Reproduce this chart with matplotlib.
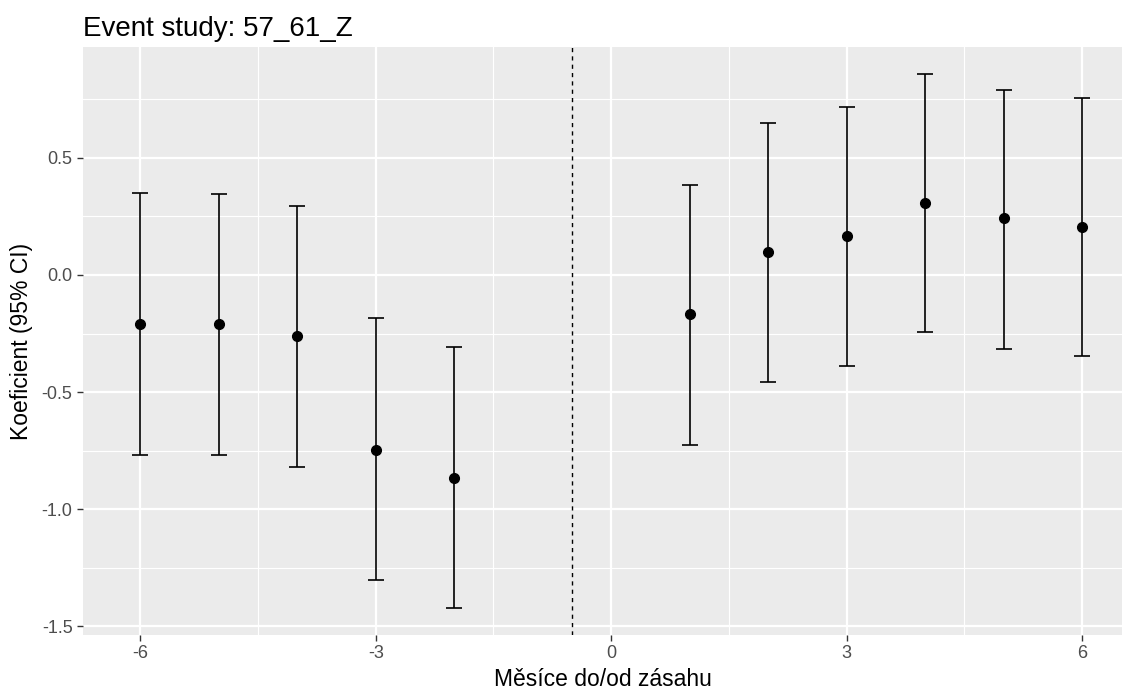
import numpy as np
import matplotlib.pyplot as plt

plt.rcParams['font.family'] = ['Liberation Sans', 'DejaVu Sans']
plt.rcParams['axes.unicode_minus'] = False

# data
months = [-6, -5, -4, -3, -2, 1, 2, 3, 4, 5, 6]
coef = [-0.209, -0.210, -0.260, -0.748, -0.868, -0.167, 0.098, 0.167, 0.308, 0.244, 0.205]
ci_low = [-0.769, -0.770, -0.820, -1.303, -1.423, -0.726, -0.457, -0.389, -0.244, -0.316, -0.346]
ci_high = [0.350, 0.346, 0.295, -0.184, -0.308, 0.385, 0.650, 0.718, 0.859, 0.790, 0.756]

x = np.array(months)
y = np.array(coef)
err = np.vstack([y - np.array(ci_low), np.array(ci_high) - y])

fig = plt.figure(figsize=(11.33, 6.96), dpi=100)
ax = fig.add_axes([83 / 1133, 1 - 635 / 696, (1122 - 83) / 1133, (635 - 47) / 696])

ax.set_facecolor('#EBEBEB')
for s in ax.spines.values():
    s.set_visible(False)

ax.set_xlim(-6.73, 6.51)
ax.set_ylim(-1.538, 0.974)
ax.set_xticks([-6, -3, 0, 3, 6])
ax.set_xticks([-4.5, -1.5, 1.5, 4.5], minor=True)
ax.set_yticks([-1.5, -1.0, -0.5, 0.0, 0.5])
ax.set_yticks([-1.25, -0.75, -0.25, 0.25, 0.75], minor=True)
ax.set_yticklabels(['-1.5', '-1.0', '-0.5', '0.0', '0.5'])
ax.grid(which='major', color='white', linewidth=1.6)
ax.grid(which='minor', color='white', linewidth=0.8)
ax.set_axisbelow(True)
ax.tick_params(which='major', length=4, width=1, color='#333333', labelcolor='#4D4D4D', labelsize=13)
ax.tick_params(which='minor', length=0)

ax.axvline(-0.5, color='black', linestyle=(0, (3, 3)), linewidth=1)
ax.errorbar(x, y, yerr=err, fmt='o', color='black', markersize=7,
            elinewidth=1.2, capsize=5.8, capthick=1.2)

ax.set_xlabel('Měsíce do/od zásahu', fontsize=16.5, labelpad=4)
ax.set_ylabel('Koeficient (95% CI)', fontsize=16.5, labelpad=6)
ax.set_title('Event study: 57_61_Z', fontsize=20, loc='left', pad=8)

fig.savefig('out.png', dpi=100)
